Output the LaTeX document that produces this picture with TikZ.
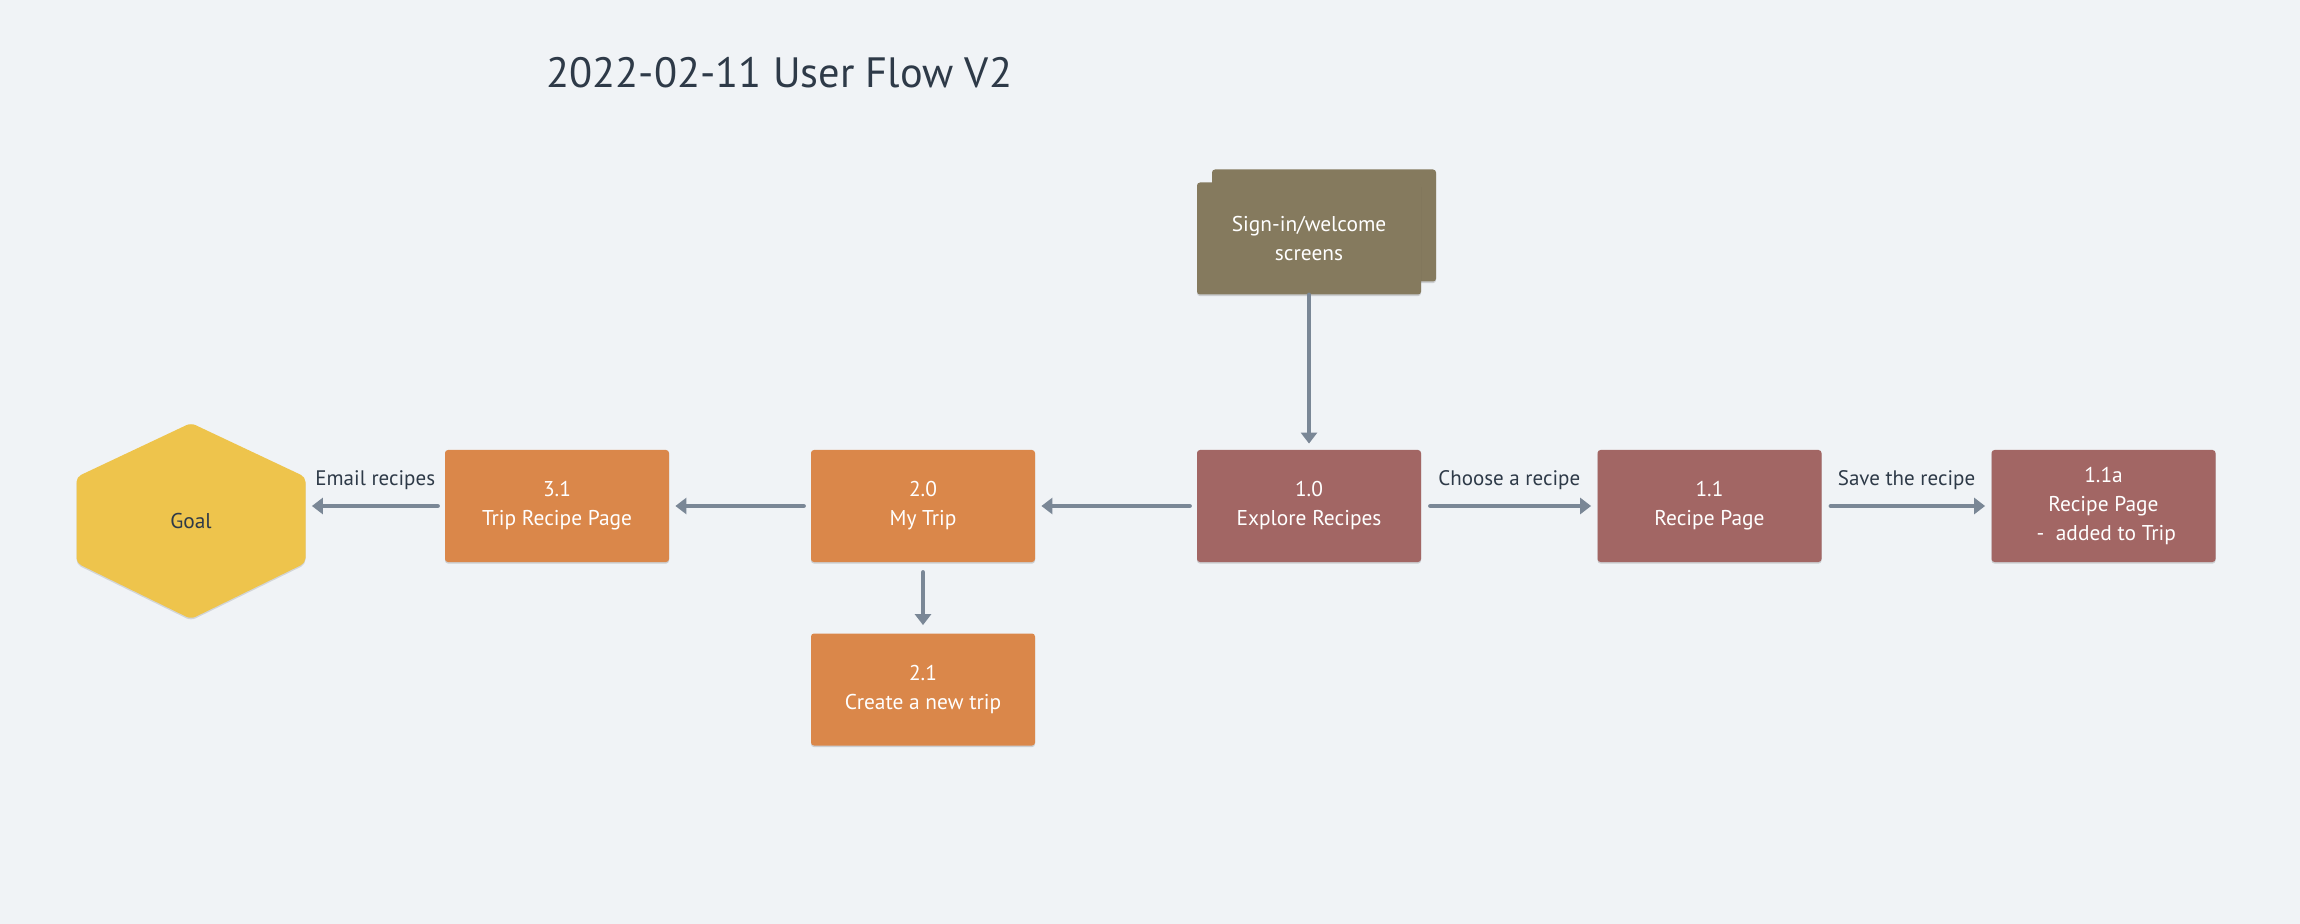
\documentclass[tikz,border=0pt]{standalone}
\usepackage{fontspec}
\setmainfont{PT Sans}
\usetikzlibrary{arrows.meta,shadows}
\definecolor{bg}{HTML}{F0F3F6}
\definecolor{ink}{HTML}{2E3A48}
\definecolor{olive}{HTML}{857A5E}
\definecolor{rose}{HTML}{A26664}
\definecolor{orng}{HTML}{DA874A}
\definecolor{gold}{HTML}{EEC44C}
\definecolor{arr}{HTML}{7A8796}
\begin{document}
\begin{tikzpicture}[x=0.5pt,y=-0.5pt,
  box/.style={rectangle, rounded corners=1.5pt, minimum width=112pt, minimum height=56pt,
    inner sep=0pt, text=white, align=center, font=\fontsize{10.7}{14.5}\selectfont,
    drop shadow={shadow xshift=0pt, shadow yshift=-0.8pt, opacity=0.15, fill=black}},
  olivebox/.style={box, fill=olive},
  rosebox/.style={box, fill=rose},
  orangebox/.style={box, fill=orng},
  goalnode/.style={rectangle, minimum width=114.5pt, minimum height=98pt, inner sep=0pt,
    text=ink, font=\fontsize{10.7}{14}\selectfont},
  lbl/.style={text=ink, font=\fontsize{10.5}{12}\selectfont, inner sep=0pt},
  flow/.style={draw=arr, line width=2.3pt, line cap=round,
    -{Triangle[width=8pt,length=5.5pt]}, shorten <=3.5pt, shorten >=3pt}
]
\useasboundingbox[fill=bg] (0,0) rectangle (2300,924);

% title
\node[anchor=base west, text=ink, font=\fontsize{21.2}{26}\selectfont, inner sep=0pt] (title) at (546,88) {2022-02-11 User Flow V2};

% sign-in stack
\node[olivebox] (signinback) at (1324,225.5) {};
\node[olivebox] (signin) at (1309,238.5) {Sign-in/welcome\\screens};

% row
\node[rosebox] (b10) at (1309,506) {1.0\\Explore Recipes};
\node[rosebox] (b11) at (1709.5,506) {1.1\\Recipe Page};
\node[rosebox] (b11a) at (2103.5,506) {1.1a\\Recipe Page\\\ -\ \ added to Trip};
\node[orangebox] (b20) at (923,506) {2.0\\My Trip};
\node[orangebox] (b21) at (923,689.5) {2.1\\Create a new trip};
\node[orangebox] (b31) at (557,506) {3.1\\Trip Recipe Page};

% goal hexagon
\fill[gold, rounded corners=2.5pt, drop shadow={shadow xshift=0pt, shadow yshift=-0.8pt, opacity=0.12, fill=black}]
  (191,423) -- (305.5,477) -- (305.5,563) -- (191,619) -- (76.5,563) -- (76.5,477) -- cycle;
\node[goalnode] (goal) at (191,521) {Goal};

% connectors
\draw[flow, shorten <=0pt] (signin.south) -- (b10.north);
\draw[flow] (b10.west) -- (b20.east);
\draw[flow] (b20.west) -- (b31.east);
\draw[flow] (b31.west) -- (goal.east |- b31.west) node[lbl, midway, yshift=13pt] {Email recipes};
\draw[flow, shorten <=4.5pt] (b10.east) -- (b11.west) node[lbl, midway, yshift=13pt] {Choose a recipe};
\draw[flow, shorten <=4.5pt] (b11.east) -- (b11a.west) node[lbl, midway, yshift=13pt] {Save the recipe};
\draw[flow, shorten <=5pt, shorten >=4pt] (b20.south) -- (b21.north);
\end{tikzpicture}
\end{document}
